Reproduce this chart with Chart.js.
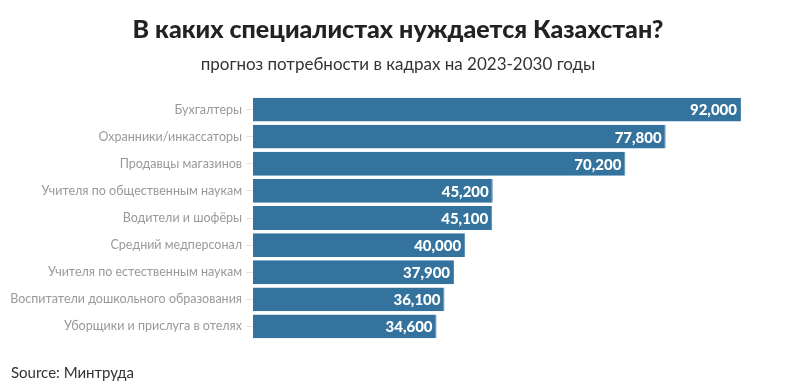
<!DOCTYPE html>
<html><head><meta charset="utf-8">
<script src="https://cdn.jsdelivr.net/npm/chart.js@4/dist/chart.umd.min.js"></script>
<style>html,body{margin:0;padding:0;background:#fff}#wrap{width:796px;height:382px;position:relative}</style>
</head><body><div id="wrap"><canvas id="c" width="796" height="382"></canvas></div>
<script>
const titleText = "В каких специалистах нуждается Казахстан?";
const subtitleText = "прогноз потребности в кадрах на 2023-2030 годы";
const sourceText = "Source: Минтруда";
const categories = ["Бухгалтеры","Охранники/инкассаторы","Продавцы магазинов","Учителя по общественным наукам","Водители и шофёры","Средний медперсонал","Учителя по естественным наукам","Воспитатели дошкольного образования","Уборщики и прислуга в отелях"];
const values = [92000,77800,70200,45200,45100,40000,37900,36100,34600];
const FONT = "Lato, 'Noto Sans', sans-serif";

const textPlugin = {
  id:'texts',
  afterDraw(chart){
    const ctx = chart.ctx;
    ctx.save();
    ctx.textAlign='center'; ctx.textBaseline='middle';
    ctx.fillStyle='#222';
    ctx.font = "900 25px " + FONT;
    ctx.fillText(titleText, 398, 30);
    ctx.font = "17px " + FONT;
    ctx.fillStyle='#333';
    ctx.fillText(subtitleText, 398, 65);
    ctx.textAlign='left';
    ctx.font = "15px " + FONT;
    ctx.fillStyle='#333';
    ctx.fillText(sourceText, 11, 373);
    const meta = chart.getDatasetMeta(0);
    ctx.font = "900 15px " + FONT;
    ctx.fillStyle='#fff';
    ctx.textAlign='right';
    meta.data.forEach((bar,i)=>{
      ctx.fillText(values[i].toLocaleString('en-US'), bar.x-4, bar.y+1);
    });
    ctx.restore();
  }
};

new Chart(document.getElementById('c'),{
  type:'bar',
  data:{labels:categories,datasets:[{data:values,backgroundColor:'#33739e',borderColor:'#4f87ad',borderWidth:{top:0,bottom:0,left:0,right:1},barPercentage:0.88,categoryPercentage:1}]},
  options:{
    indexAxis:'y',responsive:false,animation:false,
    layout:{padding:{left:0,right:55,top:96,bottom:42}},
    plugins:{legend:{display:false},tooltip:{enabled:false}},
    scales:{
      x:{min:0,max:92000,display:false},
      y:{
        afterFit(s){ s.width = 253; },
        border:{display:false},
        grid:{drawOnChartArea:false,offset:false,tickLength:7,color:'#e3e3e3'},
        ticks:{color:'#999',font:{family:FONT,size:12.5},padding:4}
      }
    }
  },
  plugins:[textPlugin]
});
</script></body></html>
